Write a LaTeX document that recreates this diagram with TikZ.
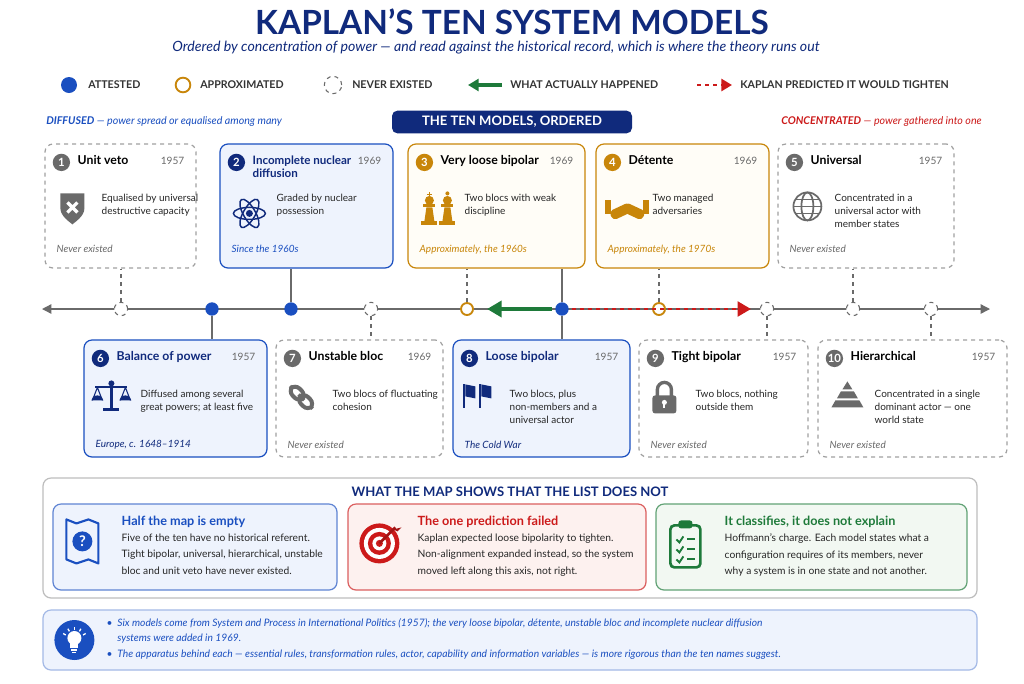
\documentclass[tikz,border=0pt]{standalone}
\usepackage{fontspec}
\setmainfont{Lato}
\usetikzlibrary{calc,fit,arrows.meta}
\definecolor{navy}{HTML}{102A7C}
\definecolor{bl}{HTML}{1A4FC0}
\definecolor{or}{HTML}{C8860A}
\definecolor{gr}{HTML}{1E7A3A}
\definecolor{rd}{HTML}{CC1A1A}
\definecolor{gy}{HTML}{6A6A6A}
\definecolor{lgy}{HTML}{A0A0A0}
\definecolor{bfill}{HTML}{EEF3FD}
\definecolor{ofill}{HTML}{FFFDF7}
\definecolor{rfill}{HTML}{FDF1EF}
\definecolor{gfill}{HTML}{F2F8F2}
\tikzset{
 box/.style={fit={#1}, inner sep=0pt, rounded corners=6pt, line width=0.9pt},
 cG/.style={draw=lgy, dashed, fill=white},
 cB/.style={draw=bl, fill=bfill},
 cO/.style={draw=or, fill=ofill},
 num/.style={circle, fill=#1, text=white, font=\bfseries\fontsize{8.5}{8.5}\selectfont, inner sep=0pt, minimum size=13pt},
 ttl/.style={anchor=north west, font=\bfseries\fontsize{9.2}{10}\selectfont, align=left, inner sep=0pt},
 yr/.style={anchor=north east, font=\fontsize{7.6}{8}\selectfont, text=gy, inner sep=0pt},
 dsc/.style={anchor=north west, font=\fontsize{7.5}{10}\selectfont, align=left, inner sep=0pt, text=black!85},
 ftr/.style={anchor=north west, font=\itshape\fontsize{7.5}{8}\selectfont, inner sep=0pt},
 dotA/.style={circle, fill=bl, inner sep=0pt, minimum size=10pt},
 dotO/.style={circle, draw=or, fill=white, line width=1.4pt, inner sep=0pt, minimum size=9pt},
 dotN/.style={circle, draw=gy, dashed, fill=white, line width=0.8pt, inner sep=0pt, minimum size=10pt},
 lnk/.style={draw=gy, line width=0.8pt},
 lnkd/.style={draw=gy, line width=0.8pt, dashed},
}
\newcommand{\cardtxt}[8]{% name, color, num, title, year, desc, footer color, footer
 \node[num=#2] at ($(#1.north west)+(17,19)$) {#3};
 \node[ttl] at ($(#1.north west)+(33,12)$) {#4};
 \node[yr] at ($(#1.north east)+(-12,13)$) {#5};
 \node[dsc] at ($(#1.north west)+(57,50)$) {#6};
 \node[ftr, text=#7] at ($(#1.north west)+(12,101)$) {#8};
}
\begin{document}
\begin{tikzpicture}[x=0.75pt,y=-0.75pt]
\useasboundingbox[fill=white] (0,0) rectangle (1024,683);
% title
\node[font=\bfseries\fontsize{25}{28}\selectfont, text=navy] (title) at (512,22) {KAPLAN’S TEN SYSTEM MODELS};
\node[font=\itshape\fontsize{10.6}{12}\selectfont, text=navy] (sub) at (496,48) {Ordered by concentration of power — and read against the historical record, which is where the theory runs out};
% legend
\tikzset{lg/.style={font=\bfseries\fontsize{8}{9}\selectfont, anchor=west, text=black!80, inner sep=0pt}}
\node[dotA, minimum size=12pt] (l1) at (69,85) {};
\node[lg] at (88,85) {ATTESTED};
\node[dotO, minimum size=11pt] (l2) at (183,85) {};
\node[lg] at (200,85) {APPROXIMATED};
\node[dotN, minimum size=13pt] (l3) at (333,85) {};
\node[lg] at (352,85) {NEVER EXISTED};
\coordinate (g1) at (502,85); \coordinate (g2) at (468,85);
\draw[gr, line width=2.4pt, -{Triangle[length=8pt,width=9pt]}] (g1) -- (g2);
\node[lg] at (510,85) {WHAT ACTUALLY HAPPENED};
\coordinate (r1) at (697,85); \coordinate (r2) at (732,85);
\draw[rd, line width=2pt, dashed, -{Triangle[length=8pt,width=9pt]}] (r1) -- (r2);
\node[lg] at (740,85) {KAPLAN PREDICTED IT WOULD TIGHTEN};
% header row
\node[anchor=west, font=\fontsize{8}{9}\selectfont, text=bl, inner sep=0pt] at (46,122) {\bfseries\itshape DIFFUSED\mdseries\ — power spread or equalised among many};
\node[fill=navy, text=white, rounded corners=4pt, font=\bfseries\fontsize{9.8}{11}\selectfont, minimum width=180pt, minimum height=17pt] (hdr) at (512,122) {THE TEN MODELS, ORDERED};
\node[anchor=east, font=\fontsize{8}{9}\selectfont, text=rd, inner sep=0pt] at (982,122) {\bfseries\itshape CONCENTRATED\mdseries\ — power gathered into one};
% axis
\coordinate (axL) at (42,309); \coordinate (axR) at (990,309);
\draw[gy, line width=1pt, {Triangle[length=7pt,width=7pt]}-{Triangle[length=7pt,width=7pt]}] (axL) -- (axR);
% cards top
\node[box={(45,144)(196,268)}, cG] (c1) {};
\node[box={(220,144)(393,268)}, cB] (c2) {};
\node[box={(408,144)(585,268)}, cO] (c3) {};
\node[box={(596,144)(769,268)}, cO] (c4) {};
\node[box={(778,144)(954,268)}, cG] (c5) {};
% cards bottom
\node[box={(84,340)(267,457)}, cB] (c6) {};
\node[box={(276,340)(443,457)}, cG] (c7) {};
\node[box={(453,340)(630,457)}, cB] (c8) {};
\node[box={(639,340)(808,457)}, cG] (c9) {};
\node[box={(818,340)(1007,457)}, cG] (c10) {};
% markers
\node[dotN] (m1) at (121,309) {};
\node[dotA] (m6) at (212,309) {};
\node[dotA] (m2) at (291,309) {};
\node[dotN] (m7) at (371,309) {};
\node[dotO] (m3) at (467,309) {};
\node[dotA] (m8) at (562,309) {};
\node[dotO] (m4) at (659,309) {};
\node[dotN] (m9) at (767,309) {};
\node[dotN] (m5) at (853,309) {};
\node[dotN] (m10) at (931,309) {};
\draw[lnkd] (m1) -- (m1 |- c1.south);
\draw[lnk] (m6) -- (m6 |- c6.north);
\draw[lnk] (m2) -- (m2 |- c2.south);
\draw[lnkd] (m7) -- (m7 |- c7.north);
\draw[lnkd] (m3) -- (m3 |- c3.south);
\draw[lnk] (m8) -- (m8 |- c3.south);
\draw[lnk] (m8) -- (m8 |- c8.north);
\draw[lnkd] (m4) -- (m4 |- c4.south);
\draw[lnkd] (m9) -- (m9 |- c9.north);
\draw[lnkd] (m5) -- (m5 |- c5.south);
\draw[lnkd] (m10) -- (m10 |- c10.north);
% movement arrows
\draw[gr, line width=3pt, -{Triangle[length=11pt,width=12pt]}] ($(m8)+(-10,0)$) -- ($(m3)+(20,0)$);
\draw[rd, line width=2.2pt, dashed, -{Triangle[length=10pt,width=11pt]}] ($(m8)+(10,0)$) -- ($(m9)+(-16,0)$);
% card texts
\cardtxt{c1}{gy}{1}{Unit veto}{1957}{Equalised by universal\\destructive capacity}{gy}{Never existed}
\cardtxt{c2}{navy}{2}{\fontsize{8.7}{10}\selectfont\textcolor{navy}{Incomplete nuclear}\\\fontsize{8.7}{10}\selectfont\textcolor{navy}{diffusion}}{1969}{Graded by nuclear\\possession}{bl}{Since the 1960s}
\cardtxt{c3}{or}{3}{Very loose bipolar}{1969}{Two blocs with weak\\discipline}{or}{Approximately, the 1960s}
\cardtxt{c4}{or}{4}{Détente}{1969}{Two managed\\adversaries}{or}{Approximately, the 1970s}
\cardtxt{c5}{gy}{5}{Universal}{1957}{Concentrated in a\\universal actor with\\member states}{gy}{Never existed}
\cardtxt{c6}{navy}{6}{\textcolor{navy}{Balance of power}}{1957}{Diffused among several\\great powers; at least five}{navy}{Europe, c. 1648–1914}
\cardtxt{c7}{gy}{7}{Unstable bloc}{1969}{Two blocs of fluctuating\\cohesion}{gy}{Never existed}
\cardtxt{c8}{navy}{8}{\textcolor{navy}{Loose bipolar}}{1957}{Two blocs, plus\\non-members and a\\universal actor}{navy}{The Cold War}
\cardtxt{c9}{gy}{9}{Tight bipolar}{1957}{Two blocs, nothing\\outside them}{gy}{Never existed}
\cardtxt{c10}{gy}{10}{Hierarchical}{1957}{Concentrated in a single\\dominant actor — one\\world state}{gy}{Never existed}
% icons
\begin{scope}[shift={($(c1.north west)+(28,64)$)}]
 \fill[gy] (-12,-14) -- (12,-14) -- (12,1) .. controls (12,9) and (2,15) .. (0,17) .. controls (-2,15) and (-12,9) .. (-12,1) -- cycle;
 \draw[white, line width=2.4pt] (-5,-5) -- (5,5) (-5,5) -- (5,-5);
\end{scope}
\begin{scope}[shift={($(c2.north west)+(30,70)$)}, navy, line width=1.1pt]
 \draw (0,0) ellipse (16 and 6); \draw[rotate=60] (0,0) ellipse (16 and 6); \draw[rotate=-60] (0,0) ellipse (16 and 6);
 \fill (0,0) circle (3.5);
\end{scope}
\begin{scope}[shift={($(c3.north west)+(22,68)$)}, or]
 \foreach \dx in {0,18}{
  \fill ($(\dx-8,14)$) rectangle ($(\dx+8,10)$);
  \fill ($(\dx-5,10)$) -- ($(\dx+5,10)$) -- ($(\dx+3,-4)$) -- ($(\dx-3,-4)$) -- cycle;
  \fill ($(\dx-6,-4)$) rectangle ($(\dx+6,-7)$);
  \fill ($(\dx,-11)$) circle (4.5);}
 \draw[line width=1.3pt] (0,-19) -- (0,-14) (-2.5,-17) -- (2.5,-17);
 \fill (18,-18) circle (2);
\end{scope}
\begin{scope}[shift={($(c4.north west)+(32,65)$)}, or]
 \fill[rounded corners=3pt, rotate=25] (-18,-5) rectangle (4,5);
 \fill[rounded corners=3pt, rotate=-25] (-4,-5) rectangle (18,5);
 \fill (-22,-8) rectangle (-16,6); \fill (16,-8) rectangle (22,6);
\end{scope}
\begin{scope}[shift={($(c5.north west)+(30,63)$)}, gy, line width=1.3pt]
 \draw (0,0) circle (14); \draw (0,0) ellipse (6 and 14); \draw (-14,0) -- (14,0);
 \draw (-12,-7) -- (12,-7) (-12,7) -- (12,7);
\end{scope}
\begin{scope}[shift={($(c6.north west)+(28,55)$)}, navy]
 \fill (-1.5,-10) rectangle (1.5,14); \fill (-8,14) rectangle (8,17); \fill (-16,-8) rectangle (16,-6); \fill (0,-11) circle (3);
 \draw[line width=0.8pt] (-14,-7) -- (-19,6) (-14,-7) -- (-9,6) (14,-7) -- (9,6) (14,-7) -- (19,6);
 \fill (-20,6) arc (180:360:6 and 5) -- cycle; \fill (8,6) arc (180:360:6 and 5) -- cycle;
\end{scope}
\begin{scope}[shift={($(c7.north west)+(26,58)$)}, gy, line width=3pt]
 \draw[rounded corners=5pt, rotate=-45] (-14,-5) rectangle (2,5);
 \draw[rounded corners=5pt, rotate=-45] (-2,-5) rectangle (14,5);
\end{scope}
\begin{scope}[shift={($(c8.north west)+(24,55)$)}, navy]
 \fill (-13,-10) rectangle (-11,14); \fill (-11,-10) -- (-1,-8) -- (-1,4) -- (-11,2) -- cycle;
 \fill (3,-10) rectangle (5,14); \fill (5,-10) -- (15,-8) -- (15,4) -- (5,2) -- cycle;
\end{scope}
\begin{scope}[shift={($(c9.north west)+(26,57)$)}, gy]
 \draw[line width=2.5pt] (-7,0) -- (-7,-7) arc (180:360:7) -- (7,0);
 \fill[rounded corners=2pt] (-12,-1) rectangle (12,17);
 \fill[white] (0,6) circle (2.5); \fill[white] (-1,6) rectangle (1,12);
\end{scope}
\begin{scope}[shift={($(c10.north west)+(30,55)$)}, gy]
 \fill (0,-13) -- (5,-5) -- (-5,-5) -- cycle;
 \fill (-6.5,-3) -- (6.5,-3) -- (10.5,4) -- (-10.5,4) -- cycle;
 \fill (-12,6) -- (12,6) -- (16,13) -- (-16,13) -- cycle;
\end{scope}
% lower panel
\node[box={(43,478)(977,598)}, draw=lgy!70, fill=white] (panel) {};
\node[font=\bfseries\fontsize{9.8}{11}\selectfont, text=navy] (ptitle) at (510,492) {WHAT THE MAP SHOWS THAT THE LIST DOES NOT};
\node[box={(53,504)(337,590)}, draw=bl!70, fill=bfill] (p1) {};
\node[box={(348,504)(646,590)}, draw=rd!70, fill=rfill] (p2) {};
\node[box={(656,504)(967,590)}, draw=gr!70, fill=gfill] (p3) {};
\tikzset{ph/.style={anchor=north west, font=\bfseries\fontsize{9.5}{10}\selectfont, inner sep=0pt},
 pt/.style={anchor=north west, font=\fontsize{7.7}{12.5}\selectfont, align=left, inner sep=0pt, text=black!85}}
\node[ph, text=bl] at ($(p1.north west)+(69,12)$) {Half the map is empty};
\node[pt] at ($(p1.north west)+(69,30)$) {Five of the ten have no historical referent.\\Tight bipolar, universal, hierarchical, unstable\\bloc and unit veto have never existed.};
\node[ph, text=rd] at ($(p2.north west)+(70,12)$) {The one prediction failed};
\node[pt] at ($(p2.north west)+(70,30)$) {Kaplan expected loose bipolarity to tighten.\\Non-alignment expanded instead, so the system\\moved left along this axis, not right.};
\node[ph, text=gr] at ($(p3.north west)+(69,12)$) {It classifies, it does not explain};
\node[pt] at ($(p3.north west)+(69,30)$) {Hoffmann’s charge. Each model states what a\\configuration requires of its members, never\\why a system is in one state and not another.};
\begin{scope}[shift={($(p1.north west)+(30,38)$)}]
 \draw[bl, line width=1.6pt, line join=round] (-16,-22) -- (-6,-18) -- (6,-22) -- (16,-18) -- (16,22) -- (6,18) -- (-6,22) -- (-16,18) -- cycle;
 \fill[bl] (0,0) circle (10);
 \node[text=white, font=\bfseries\fontsize{11}{11}\selectfont] at (0,0) {?};
\end{scope}
\begin{scope}[shift={($(p2.north west)+(32,40)$)}]
 \fill[rd] (0,0) circle (20); \fill[white] (0,0) circle (15.5); \fill[rd] (0,0) circle (11.5); \fill[white] (0,0) circle (7); \fill[rd] (0,0) circle (3.5);
 \draw[rd!80!black, line width=2pt] (0,0) -- (16,-16);
 \fill[rd!80!black] (14,-14) -- (22,-16) -- (18,-12) -- cycle;
\end{scope}
\begin{scope}[shift={($(p3.north west)+(30,42)$)}, gr]
 \draw[line width=2pt, rounded corners=3pt] (-15,-20) rectangle (15,22);
 \fill[rounded corners=2pt] (-7,-25) rectangle (7,-17);
 \foreach \yy in {-6,4,14}{
  \draw[line width=1.4pt] (-9,\yy) -- (-6,\yy+3) -- (-2,\yy-3);
  \draw[line width=1.6pt] (2,\yy) -- (10,\yy);}
\end{scope}
% note
\node[box={(43,610)(977,670)}, draw=bl!40, fill=bfill] (note) {};
\fill[bl] ($(note.west)+(32,0)$) circle (20);
\begin{scope}[shift={($(note.west)+(32,0)$)}, white]
 \fill (0,-2) circle (7); \fill (-4,2) rectangle (4,8); \draw[line width=1.2pt] (-3,10) -- (3,10) (-2,12.5) -- (2,12.5);
 \foreach \a in {-150,-120,-90,-60,-30} \draw[line width=1pt] (\a:10) -- (\a:13);
\end{scope}
\tikzset{nt/.style={anchor=north west, font=\itshape\fontsize{7.7}{11.5}\selectfont, align=left, inner sep=0pt, text=bl}}
\node[nt] at ($(note.north west)+(64,9)$) {•\ \ Six models come from System and Process in International Politics (1957); the very loose bipolar, détente, unstable bloc and incomplete nuclear diffusion\\\hphantom{•\ \ }systems were added in 1969.};
\node[nt] at ($(note.north west)+(64,40)$) {•\ \ The apparatus behind each — essential rules, transformation rules, actor, capability and information variables — is more rigorous than the ten names suggest.};
\end{tikzpicture}
\end{document}
